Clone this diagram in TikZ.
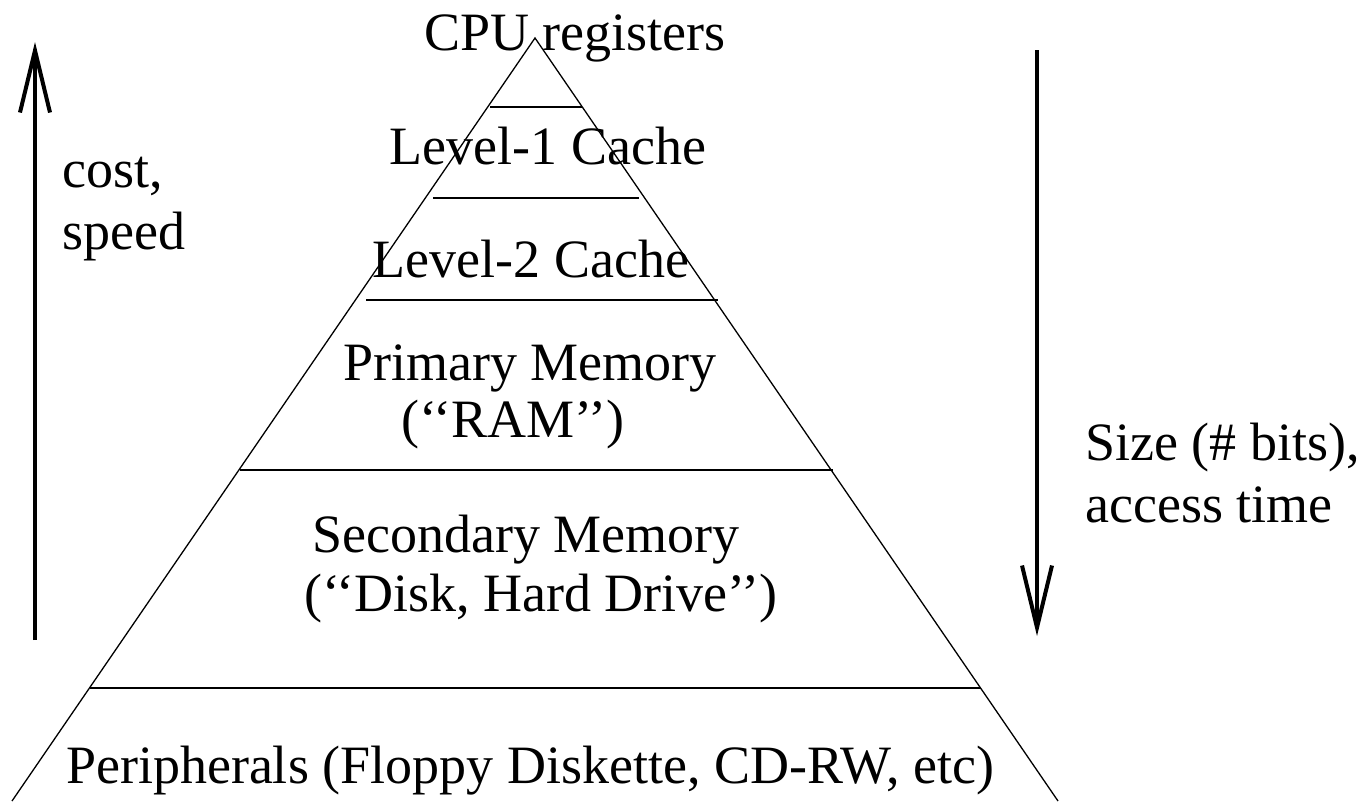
\documentclass[tikz,border=0pt]{standalone}
\usepackage{fontspec}
\setmainfont{Liberation Serif}
\usetikzlibrary{arrows.meta}
\begin{document}
\begin{tikzpicture}[x=1pt,y=-1pt,
  lvl/.style={line width=1.3pt},
  edge/.style={line width=1.3pt,line join=miter},
  lbl/.style={anchor=base,inner sep=0pt,font=\fontsize{54}{60}\selectfont},
  side/.style={anchor=base west,inner sep=0pt,font=\fontsize{54}{60}\selectfont},
  bigarrow/.style={line width=4pt,-{Straight Barb[length=62pt,width=30pt,line width=4pt]}}]
\useasboundingbox (0,0) rectangle (1364,801);
% pyramid
\coordinate (apex) at (535,38);
\coordinate (bl) at (12,801);
\coordinate (br) at (1058,801);
\draw[edge] (bl) -- (apex) -- (br);
\coordinate (l1a) at (490,107); \coordinate (l1b) at (582,107);
\coordinate (l2a) at (433,198); \coordinate (l2b) at (639,198);
\coordinate (l3a) at (366,300); \coordinate (l3b) at (718,300);
\coordinate (l4a) at (240,470); \coordinate (l4b) at (833,470);
\coordinate (l5a) at (90,688);  \coordinate (l5b) at (981,688);
\draw[lvl] (l1a) -- (l1b);
\draw[lvl] (l2a) -- (l2b);
\draw[lvl] (l3a) -- (l3b);
\draw[lvl] (l4a) -- (l4b);
\draw[lvl] (l5a) -- (l5b);
% labels
\node[lbl] (cpu) at (575,50) {CPU registers};
\node[lbl] (l1) at (548,164) {Level-1 Cache};
\node[lbl] (l2) at (531,277) {Level-2 Cache};
\node[lbl] (pm) at (530,380) {Primary Memory};
\node[lbl] (ram) at (513,437) {(‘‘RAM’’)};
\node[lbl] (sm) at (526,552) {Secondary Memory};
\node[lbl] (disk) at (541,611) {(‘‘Disk, Hard Drive’’)};
\node[lbl] (per) at (530,783) {Peripherals (Floppy Diskette, CD-RW, etc)};
\node[side] (cost) at (62,187) {cost,};
\node[side] (speed) at (62,249) {speed};
\node[side] (size) at (1085,460) {Size (\# bits),};
\node[side] (acc) at (1085,522) {access time};
% arrows
\coordinate (upbot) at (35,640);
\coordinate (uptop) at (35,42);
\coordinate (dntop) at (1037,50);
\coordinate (dnbot) at (1037,636);
\draw[bigarrow] (upbot) -- (uptop);
\draw[bigarrow] (dntop) -- (dnbot);
\end{tikzpicture}
\end{document}
